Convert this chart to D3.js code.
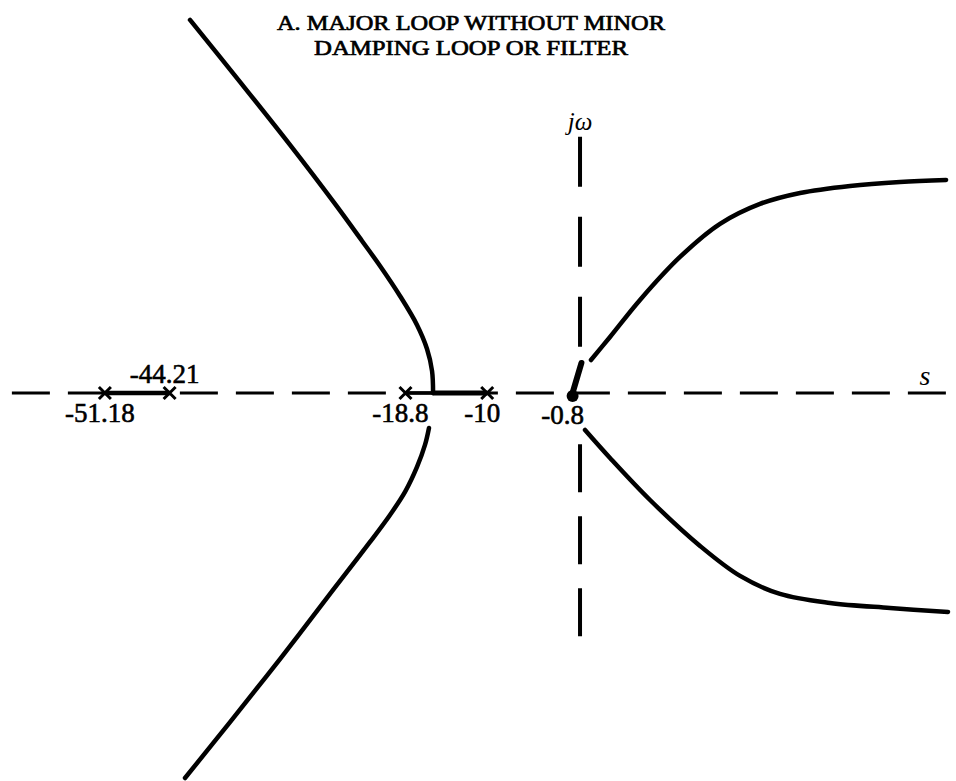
<!DOCTYPE html>
<html>
<head>
<meta charset="utf-8">
<script src="https://cdn.jsdelivr.net/npm/d3@7"></script>
<style>
  html, body { margin: 0; padding: 0; background: #fff; }
  svg { display: block; }
</style>
</head>
<body>
<script>
// Root locus, major loop only: open-loop poles and the branches of the closed-loop roots.
const titleLines = ["A. MAJOR LOOP WITHOUT MINOR", "DAMPING LOOP OR FILTER"];

const openLoopPoles = [-51.18, -44.21, -18.8, -10];
const poleLabels = ["-51.18", "-44.21", "-18.8", "-10"];
const dominantPole = -0.8;
const dominantLabel = "-0.8";
const breakawayPoint = -15.9;

// branch points as [sigma, omega]
const upperLeftBranch = [
  [-42.01, 40.18], [-36.63, 33.51], [-31.24, 26.72], [-26.39, 20.36],
  [-23.48, 16.37], [-21.54, 13.68], [-19.39, 10.45], [-17.56, 7.33],
  [-16.48, 4.74], [-15.94, 2.37], [-15.83, 0]
];
const lowerLeftBranch = [
  [-16.27, -3.77], [-16.70, -5.60], [-17.56, -7.97], [-18.85, -10.66],
  [-20.47, -13.14], [-22.62, -16.05], [-26.93, -21.65], [-32.32, -28.66],
  [-37.70, -35.45], [-42.55, -41.48]
];
const upperRightBranch = [
  [1.18, 3.55], [3.23, 6.03], [6.46, 10.02], [10.77, 14.65], [15.08, 18.21],
  [19.39, 20.36], [23.70, 21.54], [29.09, 22.30], [34.47, 22.73], [39.43, 22.95]
];
const lowerRightBranch = [
  [0.54, -3.99], [3.23, -7.00], [7.54, -11.53], [12.93, -16.48], [17.24, -19.71],
  [21.54, -21.65], [26.93, -22.62], [33.39, -23.16], [39.64, -23.59]
];
const dominantStub = [[-0.8, 0], [0.15, 3.23]];

const W = 956, H = 781;
const x = d3.scaleLinear().domain([-62.48, 40.5]).range([0, W]);
const y = d3.scaleLinear().domain([42.33, -41.8]).range([0, H]);

const svg = d3.select("body").append("svg")
  .attr("width", W).attr("height", H)
  .attr("viewBox", `0 0 ${W} ${H}`);

const serif = "'Liberation Serif', 'Times New Roman', serif";

// title
svg.append("g").selectAll("text").data(titleLines).join("text")
  .attr("x", 471)
  .attr("y", (d, i) => 30 + i * 24.5)
  .attr("text-anchor", "middle")
  .attr("font-family", serif)
  .attr("font-size", 21.5)
  .attr("fill", "#000")
  .attr("stroke", "#000")
  .attr("stroke-width", 0.7)
  .attr("textLength", (d, i) => i === 0 ? 388 : 314)
  .attr("lengthAdjust", "spacingAndGlyphs")
  .text(d => d);

// real axis (s)
svg.append("line")
  .attr("x1", x(-61.2)).attr("x2", x(40.4))
  .attr("y1", y(0)).attr("y2", y(0))
  .attr("stroke", "#000").attr("stroke-width", 3)
  .attr("stroke-dasharray", "38,18");

// imaginary axis (j omega), upper and lower parts
svg.append("line")
  .attr("x1", x(0)).attr("x2", x(0))
  .attr("y1", y(27.6)).attr("y2", y(4.6))
  .attr("stroke", "#000").attr("stroke-width", 4)
  .attr("stroke-dasharray", "50,30");
svg.append("line")
  .attr("x1", x(0)).attr("x2", x(0))
  .attr("y1", y(-26.2)).attr("y2", y(-5.2))
  .attr("stroke", "#000").attr("stroke-width", 4)
  .attr("stroke-dasharray", "48,24");

// loci on the real axis
const realSegments = [
  { from: openLoopPoles[0], to: openLoopPoles[1], w: 4.5 },
  { from: openLoopPoles[2], to: breakawayPoint, w: 3.5 },
  { from: breakawayPoint, to: openLoopPoles[3], w: 5 }
];
svg.append("g").selectAll("line").data(realSegments).join("line")
  .attr("x1", d => x(d.from)).attr("x2", d => x(d.to))
  .attr("y1", y(0)).attr("y2", y(0))
  .attr("stroke", "#000").attr("stroke-width", d => d.w);

// complex branches
const line = d3.line().x(d => x(d[0])).y(d => y(d[1])).curve(d3.curveCatmullRom.alpha(0.5));
svg.append("g").selectAll("path")
  .data([upperLeftBranch, lowerLeftBranch, upperRightBranch, lowerRightBranch])
  .join("path")
  .attr("d", line)
  .attr("fill", "none")
  .attr("stroke", "#000")
  .attr("stroke-width", 4.5)
  .attr("stroke-linecap", "round");

// dominant pole with the start of its branch
svg.append("path")
  .attr("d", d3.line().x(d => x(d[0])).y(d => y(d[1]))(dominantStub))
  .attr("stroke", "#000").attr("stroke-width", 6).attr("stroke-linecap", "round")
  .attr("fill", "none");
svg.append("circle")
  .attr("cx", x(dominantPole)).attr("cy", y(0) + 3).attr("r", 6)
  .attr("fill", "#000");

// open-loop pole crosses
const s = 6;
svg.append("g").selectAll("path").data(openLoopPoles).join("path")
  .attr("d", d => {
    const cx = x(d), cy = y(0);
    return `M${cx - s},${cy - s}L${cx + s},${cy + s}M${cx - s},${cy + s}L${cx + s},${cy - s}`;
  })
  .attr("stroke", "#000").attr("stroke-width", 3).attr("fill", "none");

// pole value labels
const labelStyle = sel => sel
  .attr("text-anchor", "middle")
  .attr("font-family", serif)
  .attr("font-size", 27)
  .attr("fill", "#000")
  .attr("stroke", "#000")
  .attr("stroke-width", 0.6);
svg.append("g").selectAll("text").data(openLoopPoles).join("text")
  .attr("x", d => x(d) - 5)
  .attr("y", (d, i) => i === 1 ? y(0) - 10 : y(0) + 29)
  .call(labelStyle)
  .text((d, i) => poleLabels[i]);
svg.append("text")
  .attr("x", x(dominantPole) - 10)
  .attr("y", y(0) + 31)
  .call(labelStyle)
  .text(dominantLabel);

// axis names
svg.append("text")
  .attr("x", x(0)).attr("y", 130)
  .attr("text-anchor", "middle")
  .attr("font-family", serif)
  .attr("font-style", "italic")
  .attr("font-size", 25)
  .text("jω");
svg.append("text")
  .attr("x", 925).attr("y", 385)
  .attr("text-anchor", "middle")
  .attr("font-family", serif)
  .attr("font-style", "italic")
  .attr("font-size", 28)
  .text("s");
</script>
</body>
</html>
